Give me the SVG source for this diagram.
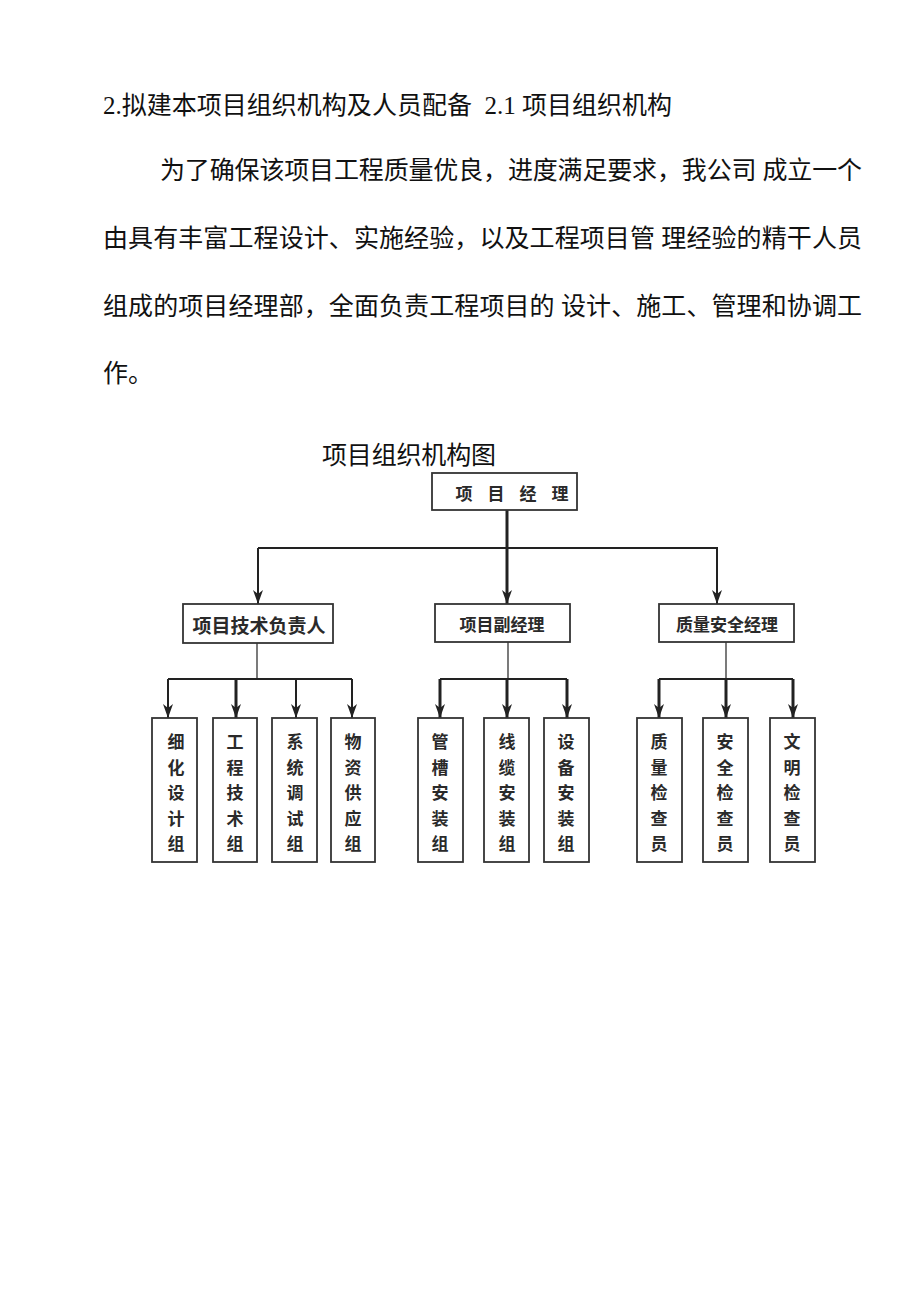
<svg xmlns="http://www.w3.org/2000/svg" width="920" height="1301" viewBox="0 0 920 1301">
<defs>
<style>
.p{font-family:"Liberation Serif","Noto Sans CJK SC",serif;font-size:25px;fill:#111;white-space:pre}
.b{fill:#fff;stroke:#333;stroke-width:1.8}
.t{font-family:"Noto Sans CJK SC","Noto Sans CJK JP",sans-serif;font-weight:bold;font-size:17px;fill:#2a2a2a;text-anchor:middle;dominant-baseline:central}
.c{fill:none;stroke:#222;stroke-width:2}
.th{stroke-width:3}
.tn{stroke-width:1.2}
</style>
<marker id="ar" viewBox="0 0 14 10" refX="14" refY="5" markerWidth="14" markerHeight="10" markerUnits="userSpaceOnUse" orient="auto">
<path d="M0,0 L4,5 L0,10 L14,5 Z" fill="#222"/>
</marker>
</defs>
<rect width="920" height="1301" fill="#fff"/>
<text class="p" x="103" y="114" textLength="569" lengthAdjust="spacing" xml:space="preserve">2.拟建本项目组织机构及人员配备  2.1 项目组织机构</text>
<text class="p" x="160" y="179" textLength="702" lengthAdjust="spacing">为了确保该项目工程质量优良，进度满足要求，我公司 成立一个</text>
<text class="p" x="103" y="247" textLength="759" lengthAdjust="spacing">由具有丰富工程设计、实施经验，以及工程项目管 理经验的精干人员</text>
<text class="p" x="103" y="315" textLength="759" lengthAdjust="spacing">组成的项目经理部，全面负责工程项目的 设计、施工、管理和协调工</text>
<text class="p" x="103" y="382">作。</text>
<text class="p" x="322" y="464" textLength="174" lengthAdjust="spacing">项目组织机构图</text>
<g id="connectors">
<line class="c th" x1="507" y1="510" x2="507" y2="604" marker-end="url(#ar)"/>
<polyline class="c" points="258,548 717,548 717,604" marker-end="url(#ar)"/>
<line class="c" x1="258" y1="548" x2="258" y2="604" marker-end="url(#ar)"/>
<line class="c tn" x1="257" y1="643" x2="257" y2="679"/>
<line class="c" x1="168" y1="679" x2="352" y2="679"/>
<line class="c" x1="168" y1="679" x2="168" y2="718" marker-end="url(#ar)"/>
<line class="c th" x1="236" y1="679" x2="236" y2="718" marker-end="url(#ar)"/>
<line class="c" x1="296" y1="679" x2="296" y2="718" marker-end="url(#ar)"/>
<line class="c" x1="352" y1="679" x2="352" y2="718" marker-end="url(#ar)"/>
<line class="c tn" x1="508" y1="642" x2="508" y2="679"/>
<line class="c" x1="440" y1="679" x2="567" y2="679"/>
<line class="c th" x1="440" y1="679" x2="440" y2="718" marker-end="url(#ar)"/>
<line class="c th" x1="507" y1="679" x2="507" y2="718" marker-end="url(#ar)"/>
<line class="c th" x1="567" y1="679" x2="567" y2="718" marker-end="url(#ar)"/>
<line class="c tn" x1="726" y1="642" x2="726" y2="679"/>
<line class="c" x1="659" y1="679" x2="793" y2="679"/>
<line class="c th" x1="659" y1="679" x2="659" y2="718" marker-end="url(#ar)"/>
<line class="c th" x1="726" y1="679" x2="726" y2="718" marker-end="url(#ar)"/>
<line class="c th" x1="793" y1="679" x2="793" y2="718" marker-end="url(#ar)"/>
</g>
<g id="n-pm"><rect class="b" x="432" y="473" width="145" height="37"/><text class="t" x="512" y="492" textLength="113" lengthAdjust="spacing">项目经理</text></g>
<g id="n-tech"><rect class="b" x="183" y="604" width="150" height="39"/><text class="t" x="259" y="624" style="font-size:19px">项目技术负责人</text></g>
<g id="n-vpm"><rect class="b" x="435" y="604" width="135" height="38"/><text class="t" x="502" y="623">项目副经理</text></g>
<g id="n-qs"><rect class="b" x="659" y="604" width="135" height="38"/><text class="t" x="727" y="623">质量安全经理</text></g>
<g id="n1"><rect class="b" x="152" y="718" width="45" height="144"/><text class="t"><tspan x="176" y="740">细</tspan><tspan x="176" y="765.5">化</tspan><tspan x="176" y="791">设</tspan><tspan x="176" y="816.5">计</tspan><tspan x="176" y="842">组</tspan></text></g>
<g id="n2"><rect class="b" x="213" y="718" width="44" height="144"/><text class="t"><tspan x="235" y="740">工</tspan><tspan x="235" y="765.5">程</tspan><tspan x="235" y="791">技</tspan><tspan x="235" y="816.5">术</tspan><tspan x="235" y="842">组</tspan></text></g>
<g id="n3"><rect class="b" x="272" y="718" width="45" height="144"/><text class="t"><tspan x="295" y="740">系</tspan><tspan x="295" y="765.5">统</tspan><tspan x="295" y="791">调</tspan><tspan x="295" y="816.5">试</tspan><tspan x="295" y="842">组</tspan></text></g>
<g id="n4"><rect class="b" x="331" y="718" width="44" height="144"/><text class="t"><tspan x="353" y="740">物</tspan><tspan x="353" y="765.5">资</tspan><tspan x="353" y="791">供</tspan><tspan x="353" y="816.5">应</tspan><tspan x="353" y="842">组</tspan></text></g>
<g id="n5"><rect class="b" x="418" y="718" width="45" height="144"/><text class="t"><tspan x="440" y="740">管</tspan><tspan x="440" y="765.5">槽</tspan><tspan x="440" y="791">安</tspan><tspan x="440" y="816.5">装</tspan><tspan x="440" y="842">组</tspan></text></g>
<g id="n6"><rect class="b" x="484" y="718" width="45" height="144"/><text class="t"><tspan x="507" y="740">线</tspan><tspan x="507" y="765.5">缆</tspan><tspan x="507" y="791">安</tspan><tspan x="507" y="816.5">装</tspan><tspan x="507" y="842">组</tspan></text></g>
<g id="n7"><rect class="b" x="544" y="718" width="45" height="144"/><text class="t"><tspan x="566" y="740">设</tspan><tspan x="566" y="765.5">备</tspan><tspan x="566" y="791">安</tspan><tspan x="566" y="816.5">装</tspan><tspan x="566" y="842">组</tspan></text></g>
<g id="n8"><rect class="b" x="637" y="718" width="45" height="144"/><text class="t"><tspan x="659" y="740">质</tspan><tspan x="659" y="765.5">量</tspan><tspan x="659" y="791">检</tspan><tspan x="659" y="816.5">查</tspan><tspan x="659" y="842">员</tspan></text></g>
<g id="n9"><rect class="b" x="703" y="718" width="45" height="144"/><text class="t"><tspan x="725" y="740">安</tspan><tspan x="725" y="765.5">全</tspan><tspan x="725" y="791">检</tspan><tspan x="725" y="816.5">查</tspan><tspan x="725" y="842">员</tspan></text></g>
<g id="n10"><rect class="b" x="770" y="718" width="45" height="144"/><text class="t"><tspan x="792" y="740">文</tspan><tspan x="792" y="765.5">明</tspan><tspan x="792" y="791">检</tspan><tspan x="792" y="816.5">查</tspan><tspan x="792" y="842">员</tspan></text></g>
</svg>
